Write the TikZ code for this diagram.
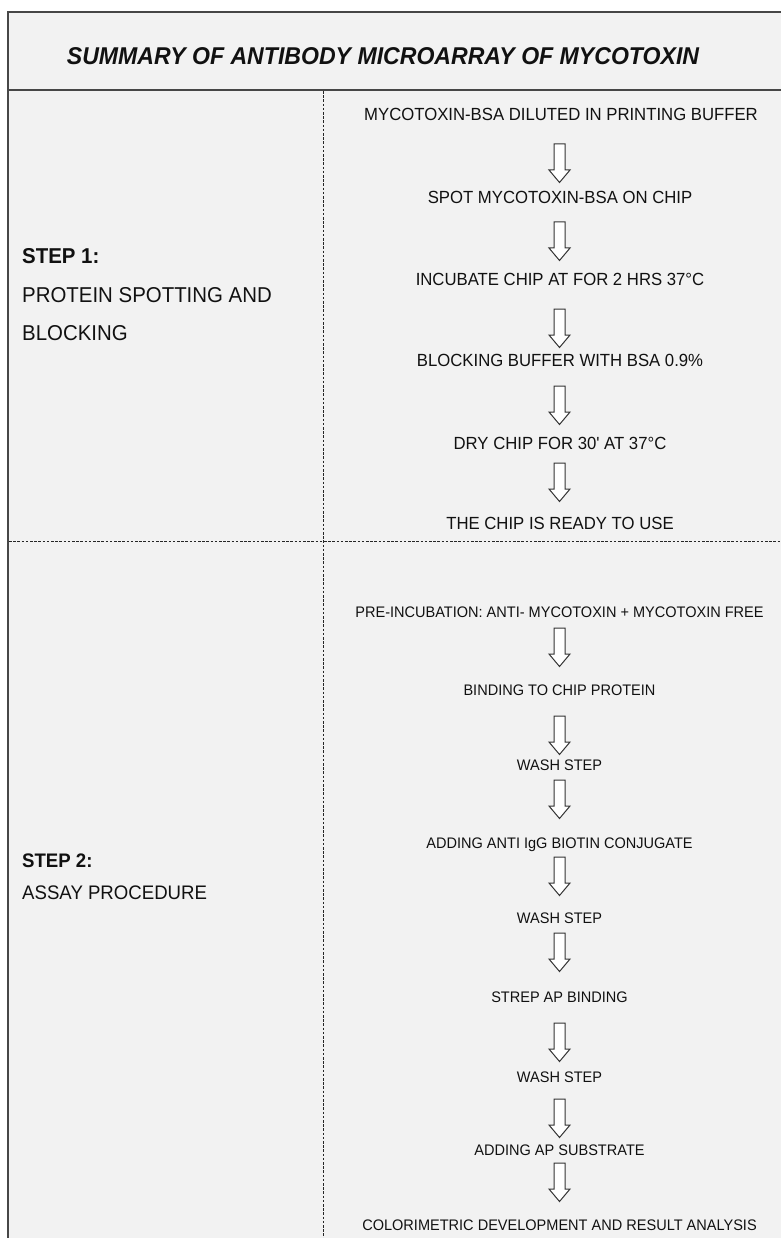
\documentclass[tikz,border=0pt]{standalone}
\usepackage{fontspec}
\setmainfont{Liberation Sans}
\newfontfamily\cfont[FakeStretch=0.95]{Liberation Sans}
\definecolor{panelbg}{HTML}{F2F2F2}
\definecolor{ink}{HTML}{111111}
\tikzset{
  pics/downarrow/.style={code={
    \draw[arrowline] (-5.5,0) -- (5.5,0) -- (5.5,26) -- (10.5,26) -- (0,38.5)
      -- (-10.5,26) -- (-5.5,26) -- cycle;}},
}
\begin{document}
\begin{tikzpicture}[x=1pt,y=-1pt,
  frameline/.style={draw=black!72, line width=1.5pt},
  dline/.style={draw=black!85, line width=1pt, dash pattern=on 2.6pt off 1.6pt},
  arrowline/.style={draw=black!80, fill=white, line width=1pt, line join=miter},
  itema/.style={font=\cfont\fontsize{17.6}{20}\selectfont, inner sep=0pt, text=ink,
    text height=12.6pt, text depth=0pt, anchor=center},
  itemb/.style={font=\cfont\fontsize{15.3}{18}\selectfont, inner sep=0pt, text=ink,
    text height=11pt, text depth=0pt, anchor=center},
  laba/.style={font=\cfont\fontsize{21.5}{24}\selectfont, inner sep=0pt, text=ink,
    text height=15.4pt, text depth=0pt, anchor=west},
  labb/.style={font=\cfont\fontsize{19.6}{22}\selectfont, inner sep=0pt, text=ink,
    text height=14pt, text depth=0pt, anchor=west},
  titlestyle/.style={font=\cfont\bfseries\itshape\fontsize{24.3}{27}\selectfont, inner sep=0pt,
    text=ink, text height=17.4pt, text depth=0pt, anchor=center},
]
\useasboundingbox (0,0) rectangle (781,1238);
\fill[white] (0,0) rectangle (781,1238);
\fill[panelbg] (8,12) rectangle (781,1238);
% frame
\draw[frameline] (8,1238) -- (8,12) -- (781,12);
\draw[frameline] (8,90) -- (781,90);
% dashed separators
\draw[dline] (323,91) -- (323,1238);
\draw[dline] (9,541) -- (781,541);
% title
\node[titlestyle] (title) at (383,56) {SUMMARY OF ANTIBODY MICROARRAY OF MYCOTOXIN};
% step labels
\node[laba, font=\cfont\bfseries\fontsize{21.5}{24}\selectfont] (s1) at (22,256) {STEP 1:};
\node[laba] (s1a) at (22,295) {PROTEIN SPOTTING AND};
\node[laba] (s1b) at (22,333) {BLOCKING};
\node[labb, font=\cfont\bfseries\fontsize{19.6}{22}\selectfont] (s2) at (22,860) {STEP 2:};
\node[labb] (s2a) at (22,892) {ASSAY PROCEDURE};
% step 1 items
\node[itema] (i1) at (561,114) {MYCOTOXIN-BSA DILUTED IN PRINTING BUFFER};
\node[itema] (i2) at (560,197) {SPOT MYCOTOXIN-BSA ON CHIP};
\node[itema] (i3) at (560,279) {INCUBATE CHIP AT FOR 2 HRS 37°C};
\node[itema] (i4) at (560,360) {BLOCKING BUFFER WITH BSA 0.9\%};
\node[itema] (i5) at (560,443) {DRY CHIP FOR 30{\char"27} AT 37°C};
\node[itema] (i6) at (560,523) {THE CHIP IS READY TO USE};
\pic (a1) at (559.5,144) {downarrow};
\pic (a2) at (559.5,222) {downarrow};
\pic (a3) at (559.5,309) {downarrow};
\pic (a4) at (559.5,386) {downarrow};
\pic (a5) at (559.5,463) {downarrow};
% step 2 items
\node[itemb] (j1) at (559.5,612) {PRE-INCUBATION: ANTI- MYCOTOXIN + MYCOTOXIN FREE};
\node[itemb] (j2) at (559.5,690) {BINDING TO CHIP PROTEIN};
\node[itemb] (j3) at (559.5,765) {WASH STEP};
\node[itemb] (j4) at (559.5,843) {ADDING ANTI IgG BIOTIN CONJUGATE};
\node[itemb] (j5) at (559.5,918) {WASH STEP};
\node[itemb] (j6) at (559.5,997) {STREP AP BINDING};
\node[itemb] (j7) at (559.5,1077) {WASH STEP};
\node[itemb] (j8) at (559.5,1150) {ADDING AP SUBSTRATE};
\node[itemb] (j9) at (559.5,1225) {COLORIMETRIC DEVELOPMENT AND RESULT ANALYSIS};
\pic (b1) at (559.5,628) {downarrow};
\pic (b2) at (559.5,716) {downarrow};
\pic (b3) at (559.5,780) {downarrow};
\pic (b4) at (559.5,857) {downarrow};
\pic (b5) at (559.5,933) {downarrow};
\pic (b6) at (559.5,1023) {downarrow};
\pic (b7) at (559.5,1099) {downarrow};
\pic (b8) at (559.5,1163) {downarrow};
\end{tikzpicture}
\end{document}
